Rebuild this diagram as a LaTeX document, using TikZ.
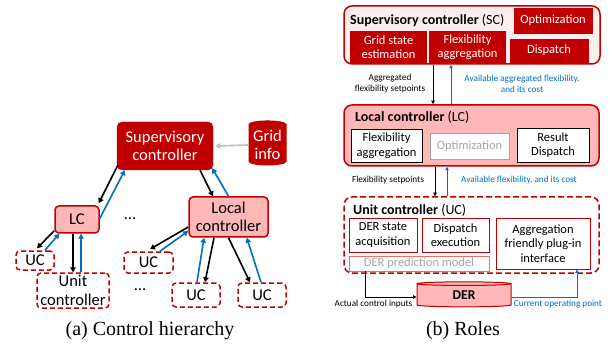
\documentclass[tikz,border=0pt]{standalone}
\usepackage{fontspec}
\setmainfont{Carlito}
\newfontfamily\capfont{Liberation Serif}
\usetikzlibrary{shapes.geometric,arrows.meta}

\begin{document}
\begin{tikzpicture}[x=1pt,y=-1pt,
  big/.style={font=\fontsize{16.5}{18.5}\selectfont},
  mid/.style={font=\fontsize{12.5}{14.5}\selectfont},
  head/.style={font=\fontsize{14}{16}\selectfont, anchor=west, inner sep=0pt},
  tiny/.style={font=\fontsize{9.2}{11}\selectfont},
  darkbox/.style={draw=dred, fill=dred, text=white, align=center, inner sep=0pt},
  pinkbox/.style={draw=dred, fill=lpink, line width=1.5pt, align=center, inner sep=0pt, rounded corners=4pt},
  ucbox/.style={draw=dred, fill=white, line width=1.5pt, dash pattern=on 5pt off 3pt, align=center, inner sep=0pt, rounded corners=4pt},
  outerbox/.style={draw=dred, line width=1.5pt, rounded corners=8pt, inner sep=0pt},
  plainbox/.style={draw=black, fill=white, line width=0.8pt, align=center, inner sep=0pt},
  redbox/.style={draw=dred, fill=white, line width=0.8pt, align=center, inner sep=0pt},
  cyl/.style={cylinder, shape border rotate=90, draw=dred, line width=1pt, align=center, inner sep=0pt},
  down/.style={line width=1.6pt, -{Triangle[length=5pt,width=5.5pt]}},
  up/.style={down, draw=ablue},
  thin down/.style={line width=0.9pt, -{Triangle[length=3.5pt,width=3.5pt]}},
  thin up/.style={thin down, draw=ablue},
  ]
\definecolor{dred}{HTML}{C00000}
\definecolor{lpink}{HTML}{FFB7B7}
\definecolor{spink}{HTML}{FDEEEE}
\definecolor{ablue}{HTML}{0070C0}
\definecolor{lgray}{HTML}{A6A6A6}
\definecolor{agray}{HTML}{BFBFBF}
\useasboundingbox (0,0) rectangle (615,347);

\node[darkbox, big, rounded corners=5pt, minimum width=96pt, minimum height=48pt] (sc) at (165,146) {Supervisory\\controller};
\node[cyl, fill=dred, text=white, big, minimum width=37pt, minimum height=44pt, aspect=0.25] (grid) at (267.5,145) {Grid\\info};
\node[pinkbox, big, minimum width=44pt, minimum height=27pt] (lc) at (77,219.5) {LC};
\node[pinkbox, big, minimum width=79pt, minimum height=40pt] (loc) at (228.5,217) {Local\\controller};
\node[ucbox, big, minimum width=38pt, minimum height=19pt] (uca) at (35,260.5) {UC};
\node[ucbox, big, minimum width=72pt, minimum height=35pt] (unit) at (73,290.5) {Unit\\controller};
\node[ucbox, big, minimum width=49pt, minimum height=21pt] (ucb) at (148.5,262.5) {UC};
\node[ucbox, big, minimum width=48pt, minimum height=24pt] (ucc) at (196,295) {UC};
\node[ucbox, big, minimum width=48pt, minimum height=24pt] (ucd) at (262,295) {UC};
\node[big] (dota) at (130,219) {...};
\node[big] (dotb) at (140,290) {...};

\draw[line width=1.6pt, agray, -{Triangle[length=5pt,width=5.5pt]}] (grid.west) -- ([xshift=2pt]sc.east);
\draw[down] ([xshift=1pt,yshift=5pt]sc.south west) -- ([xshift=-1pt,yshift=2pt]lc.north east);
\draw[up] ([yshift=1pt]lc.east) -- ([xshift=8pt]sc.south west);
\draw[down] ([xshift=35pt]sc.south) -- ([xshift=-15.5pt]loc.north);
\draw[up] (loc.north) -- ([xshift=-1pt,yshift=2pt]sc.south east);
\draw[down] ([yshift=3pt]lc.south west) -- ([xshift=2pt,yshift=2pt]uca.north);
\draw[up] ([xshift=10pt]uca.north) -- ([xshift=5pt]lc.south west);
\draw[down] ([xshift=-4pt]lc.south) -- (unit.north);
\draw[up] ([xshift=8pt]unit.north) -- ([xshift=4pt]lc.south);
\draw[down] ([yshift=-10pt]loc.west) -- ([xshift=1.5pt,yshift=2pt]ucb.north);
\draw[up] ([xshift=11.5pt]ucb.north) -- ([yshift=-14pt]loc.west);
\draw[up] ([xshift=1pt]ucc.north) -- ([xshift=-24.5pt]loc.south);
\draw[down] ([xshift=-14.5pt]loc.south) -- ([xshift=9pt]ucc.north);
\draw[down] (loc.south) -- ([xshift=-12pt]ucd.north);
\draw[up] ([xshift=-1pt]ucd.north) -- ([xshift=-22pt]loc.south east);

\node[font=\capfont\fontsize{20}{22}\selectfont] (capa) at (150,331) {(a) Control hierarchy};

\node[outerbox, fill=spink, minimum width=256pt, minimum height=58pt] (scbox) at (472,35) {};
\node[head] (sctitle) at (350,20) {\textbf{Supervisory controller} (SC)};
\node[darkbox, mid, minimum width=78pt, minimum height=25pt] (opt) at (553,20.5) {Optimization};
\node[darkbox, mid, minimum width=76pt, minimum height=32pt] (gse) at (388.5,47) {Grid state\\estimation};
\node[darkbox, mid, minimum width=76pt, minimum height=32pt] (fa) at (467.5,47) {Flexibility\\aggregation};
\node[darkbox, mid, minimum width=78pt, minimum height=23pt] (disp) at (549,50.5) {Dispatch};

\node[outerbox, fill=lpink, minimum width=255pt, minimum height=61pt] (lcbox) at (471.5,135.5) {};
\node[head] (lctitle) at (355,117) {\textbf{Local controller} (LC)};
\node[plainbox, mid, minimum width=71pt, minimum height=33pt] (lfa) at (386.5,145.5) {Flexibility\\aggregation};
\node[plainbox, draw=lgray, text=lgray, mid, minimum width=79pt, minimum height=26pt] (lopt) at (469.5,146) {Optimization};
\node[plainbox, mid, minimum width=72pt, minimum height=34pt] (lrd) at (553,145) {Result\\Dispatch};

\node[outerbox, fill=white, dash pattern=on 6pt off 3pt, minimum width=255pt, minimum height=76pt] (ucbox) at (471.5,235) {};
\node[head] (uctitle) at (353,210) {\textbf{Unit controller} (UC)};
\node[redbox, mid, minimum width=68pt, minimum height=34pt] (dsa) at (383,235) {DER state\\acquisition};
\node[redbox, mid, minimum width=67pt, minimum height=34pt] (dex) at (455.5,235) {Dispatch\\execution};
\node[redbox, draw=dred!55, text=lgray, mid, minimum width=140pt, minimum height=15pt] (dpm) at (419,263.5) {DER prediction model};
\node[redbox, mid, minimum width=94pt, minimum height=51pt] (agg) at (543,243.5) {Aggregation\\friendly plug-in\\interface};
\node[cyl, fill=lpink, font=\bfseries\fontsize{13.5}{15}\selectfont, minimum width=94pt, minimum height=25pt, aspect=0.16] (der) at (464,295.5) {DER};

\draw[thin down] ([xshift=-39pt]scbox.south) -- ([xshift=-39pt]scbox.south |- lcbox.north);
\draw[thin up] ([xshift=-21pt]scbox.south |- lcbox.north) -- ([xshift=-21pt]scbox.south);
\node[tiny, align=center] (lbla) at (390,84) {Aggregated\\flexibility setpoints};
\node[tiny, align=center, text=ablue] (lblb) at (522,84) {Available aggregated flexibility,\\and its cost};

\draw[thin down] ([xshift=-36.5pt]lcbox.south) -- ([xshift=-36.5pt]lcbox.south |- ucbox.north);
\draw[thin up] ([xshift=-24.5pt]lcbox.south |- ucbox.north) -- ([xshift=-24.5pt]lcbox.south);
\node[tiny] (lblc) at (388,180) {Flexibility setpoints};
\node[tiny, text=ablue] (lbld) at (519,180) {Available flexibility, and its cost};

\draw[thin down] ([xshift=-54pt]dpm.south) |- ([yshift=-1.5pt]der.west);
\draw[thin up] ([yshift=-1.5pt]der.east) -| ([xshift=34pt]agg.south);
\node[tiny] (lble) at (373.5,304) {Actual control inputs};
\node[tiny, text=ablue] (lblf) at (558,304) {Current operating point};

\node[font=\capfont\fontsize{20}{22}\selectfont] (capb) at (463,331) {(b) Roles};
\end{tikzpicture}
\end{document}
